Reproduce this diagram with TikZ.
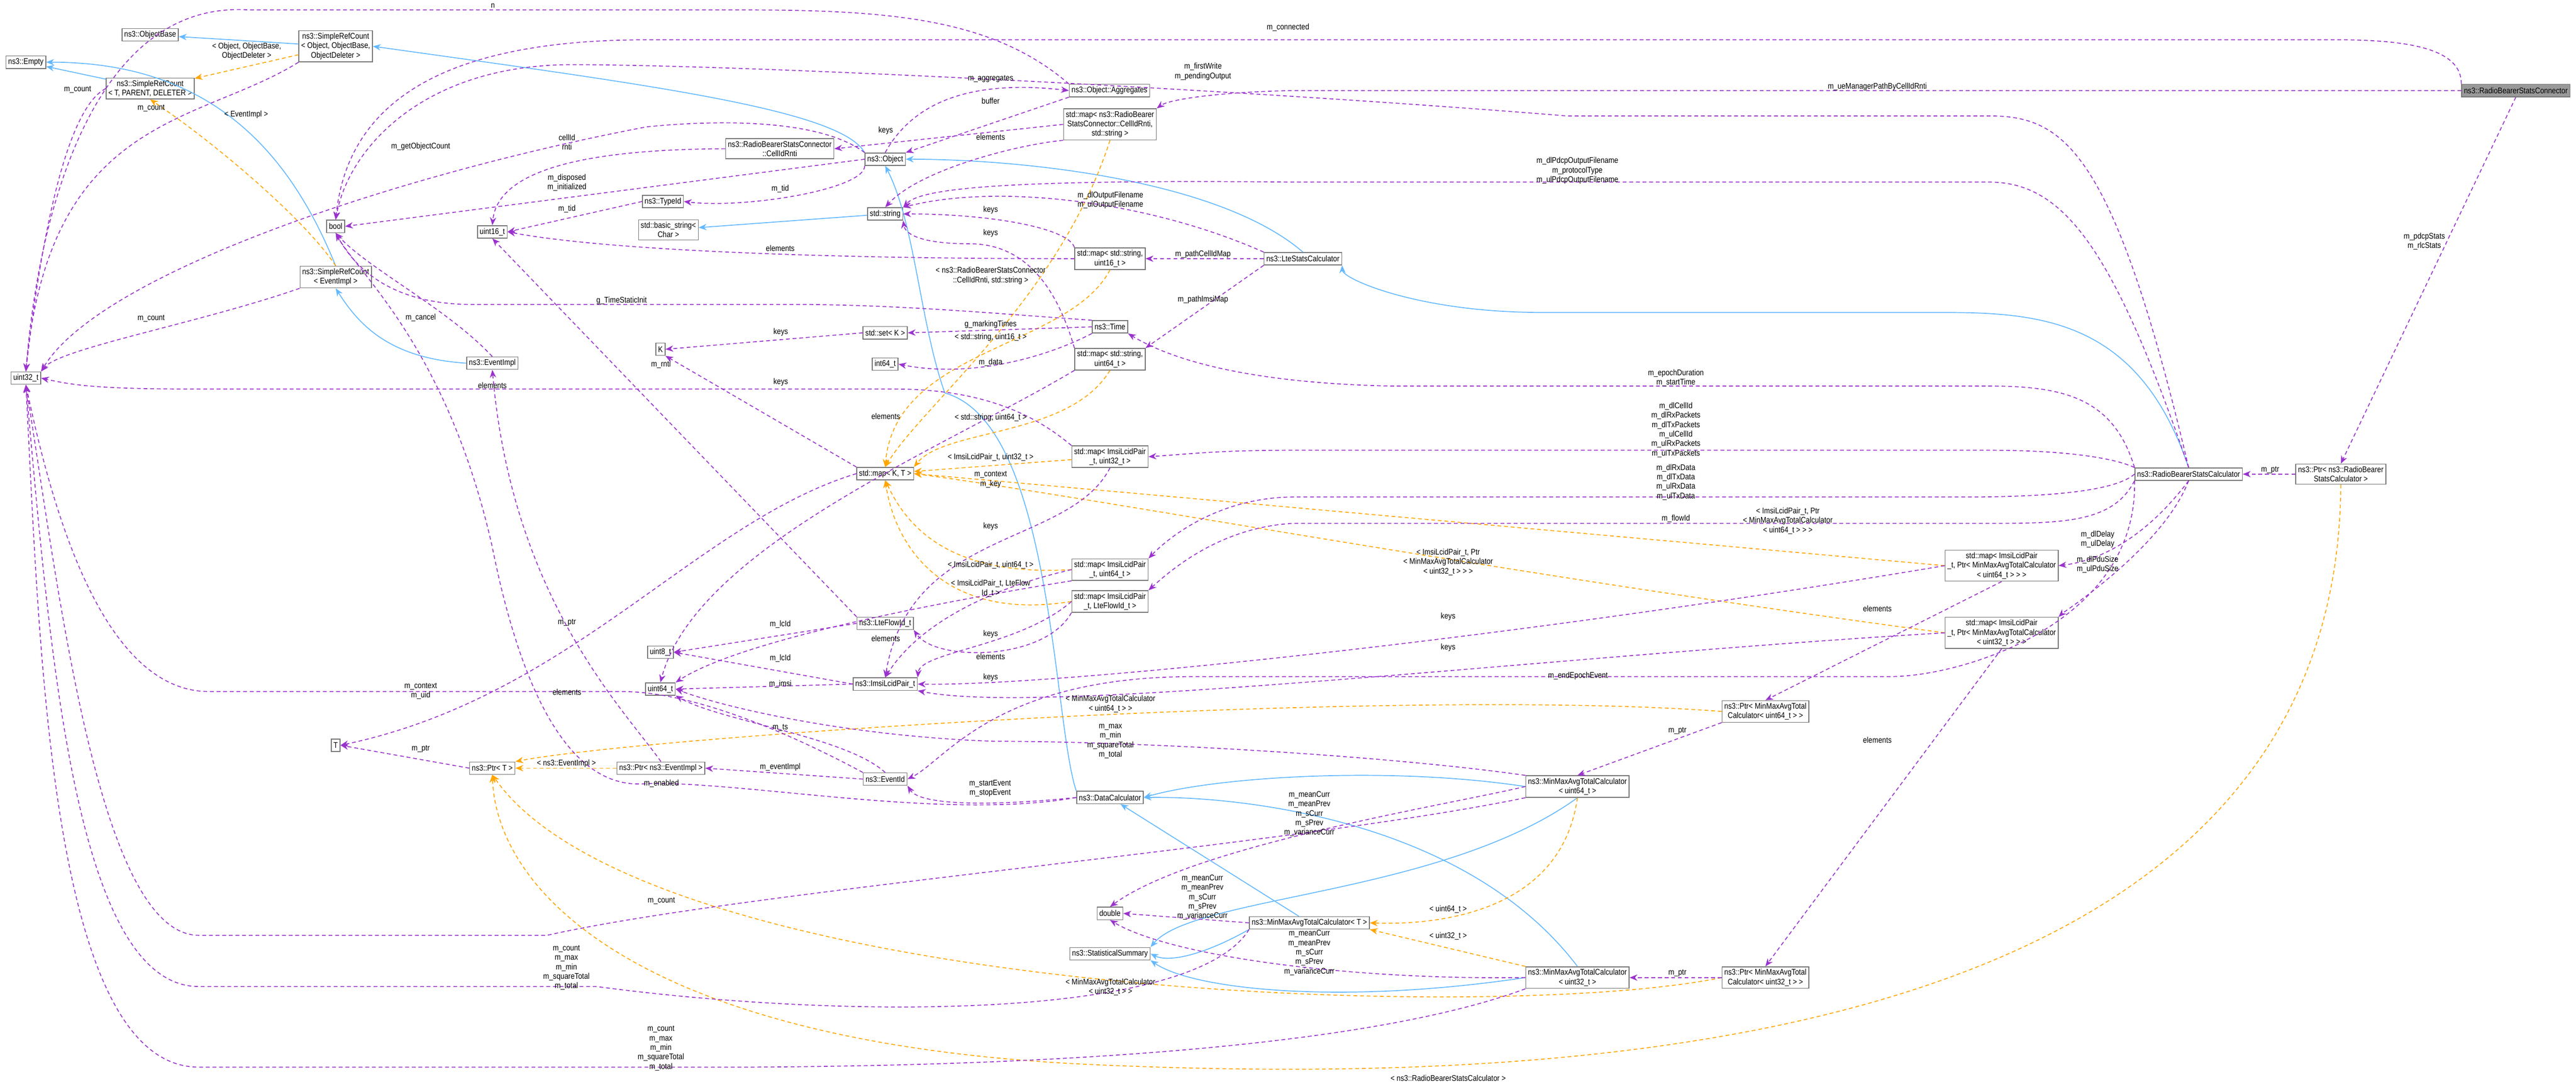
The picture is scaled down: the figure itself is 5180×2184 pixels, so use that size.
\documentclass[tikz,border=0pt]{standalone}
\usepackage{fontspec}
\setmainfont[FakeStretch=0.86]{Liberation Sans}
\usetikzlibrary{arrows.meta}
\definecolor{mpur}{RGB}{154,50,205}
\definecolor{mora}{RGB}{255,165,0}
\definecolor{mblu}{RGB}{99,184,255}
\newcommand{\nf}{\fontsize{4.7}{5.4}\selectfont}
\tikzset{
 box/.style={draw=black!55, fill=white, font=\nf, align=center, inner sep=1.3pt, minimum height=0.25cm, line width=0.45pt},
 lbl/.style={font=\nf, align=center, inner sep=0pt},
 mem/.style={draw=mpur, dashed, line width=0.5pt, dash pattern=on 2.2pt off 1.6pt, -{Stealth[length=4.5pt,width=3.6pt]}},
 tpl/.style={draw=mora, dashed, line width=0.5pt, dash pattern=on 2.2pt off 1.6pt, -{Stealth[length=4.5pt,width=3.6pt]}},
 inh/.style={draw=mblu, line width=0.5pt, -{Stealth[length=4.5pt,width=3.6pt]}},
}
\begin{document}
\begin{tikzpicture}[x=0.01cm,y=-0.01cm]
\useasboundingbox (0,0) rectangle (5180,2184);
% nodes
\node[box] (empty) at (52,125) {ns3::Empty};
\node[box] (objbase) at (302,70) {ns3::ObjectBase};
\node[box] (srcobj) at (675,93) {ns3::SimpleRefCount\\< Object, ObjectBase,\\ObjectDeleter >};
\node[box] (srct) at (302,178) {ns3::SimpleRefCount\\< T, PARENT, DELETER >};
\node[box] (bool) at (675,455) {bool};
\node[box] (u16) at (990,466) {uint16\_t};
\node[box] (srcev) at (675,557) {ns3::SimpleRefCount\\< EventImpl >};
\node[box] (u32) at (52,760) {uint32\_t};
\node[box] (evimpl) at (990,730) {ns3::EventImpl};
\node[box] (typeid) at (1333,405) {ns3::TypeId};
\node[box] (bstr) at (1344,462) {std::basic\_string<\\ Char >};
\node[box] (obj) at (1780,320) {ns3::Object};
\node[box] (cellid) at (1568,299) {ns3::RadioBearerStatsConnector\\::CellIdRnti};
\node[box] (aggr) at (2231,182) {ns3::Object::Aggregates};
\node[box] (mapcs) at (2232,250) {std::map< ns3::RadioBearer\\StatsConnector::CellIdRnti,\\ std::string >};
\node[box] (str) at (1780,430) {std::string};
\node[box] (mapsu16) at (2232,520) {std::map< std::string,\\ uint16\_t >};
\node[box] (lte) at (2620,520) {ns3::LteStatsCalculator};
\node[box] (time) at (2232,657) {ns3::Time};
\node[box] (setk) at (1780,669) {std::set< K >};
\node[box] (k) at (1328,702) {K};
\node[box] (i64) at (1780,732) {int64\_t};
\node[box] (mapsu64) at (2232,722) {std::map< std::string,\\ uint64\_t >};
\node[box] (mapkt) at (1780,952) {std::map< K, T >};
\node[box] (mapi32) at (2232,918) {std::map< ImsiLcidPair\\\_t, uint32\_t >};
\node[box] (mapi64) at (2232,1145) {std::map< ImsiLcidPair\\\_t, uint64\_t >};
\node[box] (mapif) at (2232,1209) {std::map< ImsiLcidPair\\\_t, LteFlowId\_t >};
\node[box] (flow) at (1780,1253) {ns3::LteFlowId\_t};
\node[box] (u8) at (1328,1311) {uint8\_t};
\node[box] (imsi) at (1780,1375) {ns3::ImsiLcidPair\_t};
\node[box] (u64) at (1328,1385) {uint64\_t};
\node[box] (t) at (675,1498) {T};
\node[box] (ptrt) at (990,1544) {ns3::Ptr< T >};
\node[box] (ptrev) at (1329,1544) {ns3::Ptr< ns3::EventImpl >};
\node[box] (evid) at (1780,1566) {ns3::EventId};
\node[box] (dc) at (2232,1603) {ns3::DataCalculator};
\node[box] (dbl) at (2232,1836) {double};
\node[box] (stat) at (2232,1917) {ns3::StatisticalSummary};
\node[box] (mmat) at (2633,1855) {ns3::MinMaxAvgTotalCalculator< T >};
\node[box] (mapp64) at (4025,1137) {std::map< ImsiLcidPair\\\_t, Ptr< MinMaxAvgTotalCalculator\\< uint64\_t > > >};
\node[box] (mapp32) at (4025,1272) {std::map< ImsiLcidPair\\\_t, Ptr< MinMaxAvgTotalCalculator\\< uint32\_t > > >};
\node[box] (ptr64) at (3550,1430) {ns3::Ptr< MinMaxAvgTotal\\Calculator< uint64\_t > >};
\node[box] (mma64) at (3172,1581) {ns3::MinMaxAvgTotalCalculator\\< uint64\_t >};
\node[box] (mma32) at (3172,1965) {ns3::MinMaxAvgTotalCalculator\\< uint32\_t >};
\node[box] (ptr32) at (3550,1965) {ns3::Ptr< MinMaxAvgTotal\\Calculator< uint32\_t > >};
\node[box, fill=black!40] (conn) at (5059,182) {ns3::RadioBearerStatsConnector};
\node[box] (rbsc) at (4401,953) {ns3::RadioBearerStatsCalculator};
\node[box] (ptrrbsc) at (4707,953) {ns3::Ptr< ns3::RadioBearer\\StatsCalculator >};

% inheritance
\draw[inh] (srcobj) -- (objbase);
\draw[inh] (srct) -- (empty);
\draw[inh] (srcev.north) .. controls (580,300) and (420,125) .. (empty.east);
\draw[inh] (obj.north west) .. controls (1690,220) and (1300,170) .. (srcobj.east);
\draw[inh] (evimpl.west) .. controls (780,720) and (720,650) .. (srcev.south);
\draw[inh] (str) -- (bstr);
\draw[inh] (lte.north) .. controls (2450,360) and (2050,320) .. (obj.east);
\draw[inh] (rbsc.north) .. controls (4300,640) and (4100,628) .. (3900,628) -- (3100,628) .. controls (2850,628) and (2700,560) .. (lte.south east);
\draw[inh] (dc.north west) .. controls (2117,1450) and (2117,850) .. (1900,790) .. controls (1850,650) and (1840,450) .. (obj.south);
\draw[inh] (mmat) -- (dc);
\draw[inh] (mmat.south west) .. controls (2420,1920) and (2350,1935) .. (stat.east);
\draw[inh] (mma64.west) .. controls (2800,1540) and (2450,1560) .. (dc.east);
\draw[inh] (mma64.south) .. controls (2900,1800) and (2400,1800) .. (stat.north east);
\draw[inh] (mma32.north) .. controls (2950,1650) and (2500,1600) .. (dc.east);
\draw[inh] (mma32.west) .. controls (2700,2020) and (2400,1990) .. (stat.south east);

% templates
\draw[tpl] (srcobj) -- (srct);
\draw[tpl] (srcev.north) .. controls (620,450) and (450,300) .. (srct.south);
\draw[tpl] (mapcs.south) .. controls (2130,600) and (1850,820) .. (mapkt.north);
\draw[tpl] (mapsu16.south) .. controls (2150,700) and (1800,700) .. (mapkt.north);
\draw[tpl] (mapsu64.south) .. controls (2150,880) and (1900,860) .. (mapkt.north east);
\draw[tpl] (mapi32) -- (mapkt);
\draw[tpl] (mapi64.west) .. controls (1900,1160) and (1820,1050) .. (mapkt.south);
\draw[tpl] (mapif.west) .. controls (1900,1250) and (1800,1100) .. (mapkt.south);
\draw[tpl] (mapp64.west) -- (mapkt.east);
\draw[tpl] (mapp32.west) .. controls (3000,1150) and (2200,1000) .. (mapkt.east);
\draw[tpl] (ptrev) -- (ptrt);
\draw[tpl] (ptr64.west) .. controls (2800,1380) and (1300,1480) .. (ptrt.north east);
\draw[tpl] (ptr32.west) .. controls (3000,2060) and (1300,2000) .. (ptrt.south);
\draw[tpl] (ptrrbsc.south) .. controls (4700,2170) and (3000,2175) .. (2200,2140) .. controls (1300,2100) and (1000,1800) .. (ptrt.south);
\draw[tpl] (mma64.south) .. controls (3140,1830) and (2900,1860) .. (mmat.east);
\draw[tpl] (mma32.north west) -- (mmat.south east);

% members
\draw[mem] (srct.west) .. controls (130,220) and (80,500) .. (u32.north);
\draw[mem] (srcobj.south west) .. controls (400,250) and (100,230) .. (u32.north);
\draw[mem] (srcev.south west) .. controls (400,650) and (120,700) .. (u32.north east);
\draw[mem] (aggr.north west) .. controls (2000,40) and (1800,20) .. (1500,20) -- (500,20) .. controls (200,0) and (80,400) .. (u32.north);
\draw[mem] (conn.north west) .. controls (4950,100) and (4850,80) .. (4700,80) -- (1300,80) .. controls (900,80) and (700,200) .. (bool.north);
\draw[mem] (rbsc.north) .. controls (4250,300) and (4150,233) .. (4000,233) -- (3150,233) .. controls (2500,180) and (1500,130) .. (1150,130) .. controls (850,130) and (700,300) .. (bool.north);
\draw[mem] (rbsc.north) .. controls (4250,500) and (4150,366) .. (4000,366) -- (2600,366) .. controls (2000,360) and (1850,380) .. (str.north east);
\draw[mem] (obj.west) -- (bool.east);
\draw[mem] (obj.north west) .. controls (1650,240) and (1450,240) .. (1300,255) .. controls (800,350) and (200,550) .. (u32.north east);
\draw[mem] (obj.south west) .. controls (1740,380) and (1500,420) .. (typeid.east);
\draw[mem] (obj.north) .. controls (1850,180) and (2000,165) .. (aggr.west);
\draw[mem] (aggr.south west) -- (obj.north east);
\draw[mem] (cellid.west) .. controls (1150,300) and (1000,350) .. (u16.north);
\draw[mem] (typeid.west) -- (u16.east);
\draw[mem] (mapsu16.west) .. controls (1600,520) and (1200,500) .. (u16.east);
\draw[mem] (mapcs.west) -- (cellid.east);
\draw[mem] (mapcs.south west) .. controls (2050,290) and (1850,340) .. (str.north);
\draw[mem] (mapsu16.north west) .. controls (2150,460) and (2000,430) .. (str.east);
\draw[mem] (mapsu64.north west) .. controls (2120,560) and (2050,490) .. (1950,490) .. controls (1850,490) and (1820,470) .. (str.south east);
\draw[mem] (lte.north west) .. controls (2300,400) and (2000,370) .. (str.north east);
\draw[mem] (lte.west) -- (mapsu16.east);
\draw[mem] (lte.south west) -- (mapsu64.north east);
\draw[mem] (conn.west) -- (2600,182) .. controls (2450,185) and (2350,200) .. (mapcs.north east);
\draw[mem] (time.north west) .. controls (2000,630) and (1800,612) .. (1600,612) -- (950,612) .. controls (800,612) and (720,550) .. (bool.south);
\draw[mem] (time.west) -- (setk.east);
\draw[mem] (setk.west) -- (k.east);
\draw[mem] (time.south west) .. controls (2100,720) and (1950,760) .. (i64.east);
\draw[mem] (rbsc.north west) .. controls (4250,800) and (4150,776) .. (4000,776) -- (2800,776) .. controls (2500,770) and (2350,720) .. (time.south east);
\draw[mem] (mapsu64.south west) .. controls (1900,900) and (1400,1100) .. (u64.north);
\draw[mem] (mapkt.north west) -- (k.south east);
\draw[mem] (mapkt.west) .. controls (1400,1050) and (1150,1400) .. (t.east);
\draw[mem] (ptrt.west) -- (t.east);
\draw[mem] (ptrev.north) .. controls (1250,1420) and (1030,1200) .. (evimpl.south);
\draw[mem] (evid.west) -- (ptrev.east);
\draw[mem] (evid.north west) .. controls (1600,1480) and (1400,1390) .. (1250,1390) -- (420,1390) .. controls (200,1390) and (100,1000) .. (u32.south);
\draw[mem] (evid.north) .. controls (1700,1480) and (1450,1450) .. (u64.south east);
\draw[mem] (dc.west) .. controls (1900,1650) and (1500,1570) .. (1300,1575) .. controls (1150,1590) and (1050,1400) .. (990,1100) .. controls (900,700) and (720,550) .. (bool.south);
\draw[mem] (evimpl.north) .. controls (900,620) and (740,540) .. (bool.south);
\draw[mem] (dc.west) .. controls (2000,1620) and (1850,1620) .. (evid.south east);
\draw[mem] (rbsc.south west) .. controls (4300,1250) and (3950,1360) .. (3800,1360) -- (2400,1360) .. controls (2000,1360) and (1900,1530) .. (evid.east);
\draw[mem] (rbsc.north west) .. controls (4250,920) and (4150,905) .. (4000,905) -- (2600,905) .. controls (2450,905) and (2400,912) .. (mapi32.east);
\draw[mem] (rbsc.west) .. controls (4250,990) and (4100,999) .. (3950,999) -- (2600,999) .. controls (2450,1000) and (2350,1080) .. (mapi64.north east);
\draw[mem] (rbsc.south west) .. controls (4250,1050) and (4150,1052) .. (4000,1052) -- (2600,1052) .. controls (2450,1060) and (2350,1150) .. (mapif.north east);
\draw[mem] (rbsc.south) .. controls (4300,1100) and (4200,1130) .. (mapp64.east);
\draw[mem] (rbsc.south) .. controls (4350,1100) and (4150,1230) .. (mapp32.north east);
\draw[mem] (mapi32.south) .. controls (2150,1100) and (1830,1060) .. (imsi.north);
\draw[mem] (mapi64.west) .. controls (2000,1180) and (1850,1250) .. (imsi.north);
\draw[mem] (mapif.west) .. controls (2050,1300) and (1850,1310) .. (imsi.north east);
\draw[mem] (mapif.south west) .. controls (2100,1330) and (1880,1330) .. (flow.south east);
\draw[mem] (mapi64.south west) .. controls (1950,1200) and (1500,1280) .. (u64.north east);
\draw[mem] (mapp64.west) .. controls (3000,1290) and (2100,1380) .. (imsi.east);
\draw[mem] (mapp32.west) .. controls (3100,1320) and (2100,1440) .. (imsi.south east);
\draw[mem] (mapi32.north west) .. controls (2100,850) and (2000,782) .. (1800,782) -- (400,782) .. controls (200,782) and (150,775) .. (u32.east);
\draw[mem] (flow.west) -- (u8.east);
\draw[mem] (imsi.west) -- (u8.east);
\draw[mem] (imsi.west) -- (u64.east);
\draw[mem] (flow.north west) -- (u16.south);
\draw[mem] (mapp64.south) -- (ptr64.north);
\draw[mem] (mapp32.south) -- (ptr32.north);
\draw[mem] (ptr64.south west) -- (mma64.north);
\draw[mem] (ptr32.west) -- (mma32.east);
\draw[mem] (mma64.north west) .. controls (2800,1520) and (2300,1490) .. (2000,1490) .. controls (1700,1480) and (1450,1420) .. (u64.east);
\draw[mem] (mma64.south west) .. controls (2600,1700) and (1500,1790) .. (1100,1880) -- (400,1880) .. controls (200,1880) and (120,1200) .. (u32.south);
\draw[mem] (mmat.south west) .. controls (2400,2050) and (1700,2050) .. (1200,1983) -- (400,1983) .. controls (150,1983) and (100,1300) .. (u32.south);
\draw[mem] (mma32.south west) .. controls (2900,2050) and (2500,2140) .. (1500,2145) -- (400,2145) .. controls (100,2145) and (80,1300) .. (u32.south);
\draw[mem] (mma64.west) .. controls (2900,1620) and (2400,1700) .. (dbl.north);
\draw[mem] (mmat.west) -- (dbl.east);
\draw[mem] (mma32.west) .. controls (2700,1970) and (2350,1920) .. (dbl.south);
\draw[mem] (conn.south) -- (ptrrbsc.north);
\draw[mem] (ptrrbsc.west) -- (rbsc.east);

% labels
\node[lbl] (l1) at (991,12) {n};
\node[lbl] (l2) at (156,180) {m\_count};
\node[lbl] (l3) at (304,217) {m\_count};
\node[lbl] (l4) at (496,103) {< Object, ObjectBase,\\ObjectDeleter >};
\node[lbl] (l5) at (495,230) {< EventImpl >};
\node[lbl] (l6) at (846,295) {m\_getObjectCount};
\node[lbl] (l7) at (1140,286) {cellId\\rnti};
\node[lbl] (l8) at (1140,367) {m\_disposed\\m\_initialized};
\node[lbl] (l9) at (1140,420) {m\_tid};
\node[lbl] (l10) at (304,640) {m\_count};
\node[lbl] (l11) at (846,638) {m\_cancel};
\node[lbl] (l12) at (1250,604) {g\_TimeStaticInit};
\node[lbl] (l13) at (2590,55) {m\_connected};
\node[lbl] (l14) at (2419,144) {m\_firstWrite\\m\_pendingOutput};
\node[lbl] (l15) at (1992,159) {m\_aggregates};
\node[lbl] (l16) at (1992,203) {buffer};
\node[lbl] (l17) at (1781,263) {keys};
\node[lbl] (l18) at (1992,275) {elements};
\node[lbl] (l19) at (1569,379) {m\_tid};
\node[lbl] (l20) at (2233,402) {m\_dlOutputFilename\\m\_ulOutputFilename};
\node[lbl] (l21) at (1992,422) {keys};
\node[lbl] (l22) at (1992,469) {keys};
\node[lbl] (l23) at (1569,499) {elements};
\node[lbl] (l24) at (2419,511) {m\_pathCellIdMap};
\node[lbl] (l25) at (1992,554) {< ns3::RadioBearerStatsConnector\\::CellIdRnti, std::string >};
\node[lbl] (l26) at (2419,602) {m\_pathImsiMap};
\node[lbl] (l27) at (1992,652) {g\_markingTimes};
\node[lbl] (l28) at (1992,678) {< std::string, uint16\_t >};
\node[lbl] (l29) at (1570,668) {keys};
\node[lbl] (l30) at (1329,733) {m\_rnti};
\node[lbl] (l31) at (1992,729) {m\_data};
\node[lbl] (l32) at (1570,768) {keys};
\node[lbl] (l33) at (990,775) {elements};
\node[lbl] (l34) at (1781,837) {elements};
\node[lbl] (l35) at (1992,840) {< std::string, uint64\_t >};
\node[lbl] (l36) at (1992,919) {< ImsiLcidPair\_t, uint32\_t >};
\node[lbl] (l37) at (1992,964) {m\_context\\m\_key};
\node[lbl] (l38) at (1992,1058) {keys};
\node[lbl] (l39) at (1992,1136) {< ImsiLcidPair\_t, uint64\_t >};
\node[lbl] (l40) at (1992,1183) {< ImsiLcidPair\_t, LteFlow\\Id\_t >};
\node[lbl] (l41) at (1140,1251) {m\_ptr};
\node[lbl] (l42) at (1569,1255) {m\_lcId};
\node[lbl] (l43) at (1781,1283) {elements};
\node[lbl] (l44) at (1992,1275) {keys};
\node[lbl] (l45) at (1992,1320) {elements};
\node[lbl] (l46) at (1569,1323) {m\_lcId};
\node[lbl] (l47) at (1992,1362) {keys};
\node[lbl] (l48) at (1569,1375) {m\_imsi};
\node[lbl] (l49) at (1140,1391) {elements};
\node[lbl] (l50) at (846,1389) {m\_context\\m\_uid};
\node[lbl] (l51) at (2233,1415) {< MinMaxAvgTotalCalculator\\< uint64\_t > >};
\node[lbl] (l52) at (1569,1463) {m\_ts};
\node[lbl] (l53) at (2233,1490) {m\_max\\m\_min\\m\_squareTotal\\m\_total};
\node[lbl] (l54) at (846,1505) {m\_ptr};
\node[lbl] (l55) at (1139,1535) {< ns3::EventImpl >};
\node[lbl] (l56) at (1569,1542) {m\_eventImpl};
\node[lbl] (l57) at (1330,1575) {m\_enabled};
\node[lbl] (l58) at (1991,1585) {m\_startEvent\\m\_stopEvent};
\node[lbl] (l59) at (1330,1811) {m\_count};
\node[lbl] (l60) at (1139,1945) {m\_count\\m\_max\\m\_min\\m\_squareTotal\\m\_total};
\node[lbl] (l61) at (1329,2107) {m\_count\\m\_max\\m\_min\\m\_squareTotal\\m\_total};
\node[lbl] (l62) at (2233,1984) {< MinMaxAvgTotalCalculator\\< uint32\_t > >};
\node[lbl] (l63) at (2418,1804) {m\_meanCurr\\m\_meanPrev\\m\_sCurr\\m\_sPrev\\m\_varianceCurr};
\node[lbl] (l64) at (2633,1636) {m\_meanCurr\\m\_meanPrev\\m\_sCurr\\m\_sPrev\\m\_varianceCurr};
\node[lbl] (l65) at (2633,1915) {m\_meanCurr\\m\_meanPrev\\m\_sCurr\\m\_sPrev\\m\_varianceCurr};
\node[lbl] (l66) at (2912,1828) {< uint64\_t >};
\node[lbl] (l67) at (2912,1882) {< uint32\_t >};
\node[lbl] (l68) at (2912,2167) {< ns3::RadioBearerStatsCalculator >};
\node[lbl] (l69) at (3373,1469) {m\_ptr};
\node[lbl] (l70) at (3373,1956) {m\_ptr};
\node[lbl] (l71) at (3775,1223) {elements};
\node[lbl] (l72) at (3775,1487) {elements};
\node[lbl] (l73) at (2912,1239) {keys};
\node[lbl] (l74) at (2912,1302) {keys};
\node[lbl] (l75) at (3173,1359) {m\_endEpochEvent};
\node[lbl] (l76) at (2912,1130) {< ImsiLcidPair\_t, Ptr\\< MinMaxAvgTotalCalculator\\< uint32\_t > > >};
\node[lbl] (l77) at (3595,1047) {< ImsiLcidPair\_t, Ptr\\< MinMaxAvgTotalCalculator\\< uint64\_t > > >};
\node[lbl] (l78) at (3775,174) {m\_ueManagerPathByCellIdRnti};
\node[lbl] (l79) at (3172,343) {m\_dlPdcpOutputFilename\\m\_protocolType\\m\_ulPdcpOutputFilename};
\node[lbl] (l80) at (3370,760) {m\_epochDuration\\m\_startTime};
\node[lbl] (l81) at (3370,864) {m\_dlCellId\\m\_dlRxPackets\\m\_dlTxPackets\\m\_ulCellId\\m\_ulRxPackets\\m\_ulTxPackets};
\node[lbl] (l82) at (3370,969) {m\_dlRxData\\m\_dlTxData\\m\_ulRxData\\m\_ulTxData};
\node[lbl] (l83) at (3370,1043) {m\_flowId};
\node[lbl] (l84) at (4218,1084) {m\_dlDelay\\m\_ulDelay};
\node[lbl] (l85) at (4218,1135) {m\_dlPduSize\\m\_ulPduSize};
\node[lbl] (l86) at (4875,485) {m\_pdcpStats\\m\_rlcStats};
\node[lbl] (l87) at (4565,945) {m\_ptr};
\end{tikzpicture}
\end{document}
